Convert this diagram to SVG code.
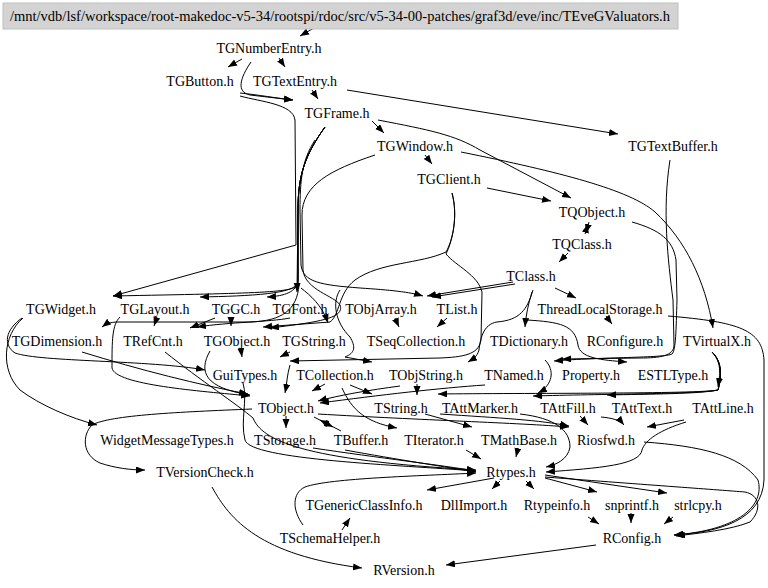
<svg xmlns="http://www.w3.org/2000/svg" width="768" height="588" viewBox="0 0 768 588">
<style>
text{font-family:'Liberation Serif','Times New Roman',Times,serif;font-size:14px;fill:#000;text-anchor:middle}
.e{fill:none;stroke:#000;stroke-width:1}
</style>
<defs>
<marker id="a" markerUnits="userSpaceOnUse" markerWidth="10" markerHeight="8" refX="9" refY="3.5" orient="auto">
<path d="M0,0 L9,3.5 L0,7 z" fill="#000"/>
</marker>
</defs>
<rect width="768" height="588" fill="#fff"/>
<g id="edges" marker-end="url(#a)">
<path class="e" d="M314,28 L300,36"/>
<path class="e" d="M242,59 L228,67"/>
<path class="e" d="M279,58 L285,67"/>
<path class="e" d="M251,62 C240,78 236,92 250,95 L293,100"/>
<path class="e" d="M240,93 C260,95 275,98 293,100"/>
<path class="e" d="M240,96 C262,102 293,104 295,120 L296,245 L113,296"/>
<path class="e" d="M312,90 L318,99"/>
<path class="e" d="M347,90 L618,134"/>
<path class="e" d="M372,121 L384,133"/>
<path class="e" d="M378,120 C430,130 455,135 480,150 L571,198"/>
<path class="e" d="M325,127 C305,155 298,175 298,210 L297,292"/>
<path class="e" d="M325,127 C305,155 298,175 298,210 L298,280 C297,292 285,296 267,297"/>
<path class="e" d="M325,127 C305,155 298,175 298,210 L298,282 C297,294 250,296 200,297"/>
<path class="e" d="M325,127 C305,155 298,175 298,210 L298,284 C296,293 260,293 113,296"/>
<path class="e" d="M299,285 C297,310 282,321 250,322 L118,322 C110,322 106,324 102,327"/>
<path class="e" d="M301,288 C310,295 322,305 328,323"/>
<path class="e" d="M315,140 C302,160 300,180 300,210 L301,265 C303,282 320,285 360,288 C390,290 410,292 423,296"/>
<path class="e" d="M375,155 C330,170 302,185 302,215 L303,270 C305,290 335,296 340,305 C345,318 320,322 270,328"/>
<path class="e" d="M425,155 L432,164"/>
<path class="e" d="M461,152 C560,172 630,190 655,212 C685,240 705,280 713,328"/>
<path class="e" d="M487,188 L551,201"/>
<path class="e" d="M452,193 C458,215 453,240 446,252 C420,264 380,262 355,280 C338,293 340,315 330,322 L263,327"/>
<path class="e" d="M452,193 C458,215 453,240 446,254 C456,266 478,275 482,292 L481,340 C479,355 462,357 440,358 L290,361"/>
<path class="e" d="M589,222 L586,233"/>
<path class="e" d="M585,234 L588,224"/>
<path class="e" d="M568,253 L559,262"/>
<path class="e" d="M513,282 L427,296"/>
<path class="e" d="M515,284 L432,297"/>
<path class="e" d="M555,288 L576,298"/>
<path class="e" d="M532,292 C528,305 526,315 525,327"/>
<path class="e" d="M533,290 C527,310 520,320 497,322 C483,324 480,340 479,350 C477,357 473,359 468,362"/>
<path class="e" d="M527,320 C560,322 575,325 578,345 C580,358 600,360 627,362"/>
<path class="e" d="M606,316 L612,324"/>
<path class="e" d="M668,316 C740,322 762,330 764,360 L764,480 C762,520 720,532 674,535"/>
<path class="e" d="M670,160 C662,210 668,260 673,300 L674,345 C674,356 660,358 640,358 L562,359"/>
<path class="e" d="M632,222 C660,230 673,240 676,260 L677,300 C676,330 676,350 672,354 C665,358 600,357 554,361"/>
<path class="e" d="M157,317 L154,326"/>
<path class="e" d="M231,317 L231,326"/>
<path class="e" d="M215,318 L190,328"/>
<path class="e" d="M290,318 C270,322 230,322 197,327"/>
<path class="e" d="M395,318 L399,327"/>
<path class="e" d="M447,318 L437,327"/>
<path class="e" d="M340,290 C332,302 335,322 350,337 C356,347 355,353 345,357 L372,362"/>
<path class="e" d="M712,352 C722,362 720,375 718,387"/>
<path class="e" d="M712,352 C722,362 722,375 718,390 C700,394 650,394 607,395"/>
<path class="e" d="M712,352 C722,362 722,375 718,390 C700,394 600,394 533,396"/>
<path class="e" d="M712,352 C722,362 722,375 718,390 C700,394 520,393 438,394"/>
<path class="e" d="M545,360 C555,370 553,385 538,393"/>
<path class="e" d="M22,318 C5,330 3,345 15,353 C40,362 150,360 205,370"/>
<path class="e" d="M23,318 C3,335 0,370 20,390 C40,405 70,418 97,425"/>
<path class="e" d="M120,317 C112,325 112,340 112,368 C115,385 200,391 250,396"/>
<path class="e" d="M82,352 C140,370 200,385 248,394"/>
<path class="e" d="M165,352 C200,380 238,405 253,418 C262,440 300,460 476,470"/>
<path class="e" d="M210,351 C198,372 205,388 250,395"/>
<path class="e" d="M241,350 L242,357"/>
<path class="e" d="M290,352 L280,357"/>
<path class="e" d="M243,383 C248,400 240,420 245,440 C250,460 400,465 476,471"/>
<path class="e" d="M290,365 C287,375 287,383 285,393"/>
<path class="e" d="M325,384 L312,391"/>
<path class="e" d="M350,385 L372,394"/>
<path class="e" d="M417,384 L417,395"/>
<path class="e" d="M400,386 C370,390 340,395 318,401"/>
<path class="e" d="M485,385 C440,388 380,395 320,403"/>
<path class="e" d="M286,416 L286,428"/>
<path class="e" d="M341,431 L320,420"/>
<path class="e" d="M314,417 L333,427"/>
<path class="e" d="M342,388 C352,410 365,422 397,428"/>
<path class="e" d="M318,414 C420,420 520,423 569,427"/>
<path class="e" d="M425,414 L472,427"/>
<path class="e" d="M440,414 C500,418 540,420 569,426"/>
<path class="e" d="M520,414 C555,418 570,430 570,447 C568,460 555,465 546,467"/>
<path class="e" d="M580,416 L588,425"/>
<path class="e" d="M601,417 C612,418 620,420 624,425"/>
<path class="e" d="M684,420 L647,427"/>
<path class="e" d="M686,422 C660,430 645,440 642,450 C640,465 600,468 546,472"/>
<path class="e" d="M644,442 C700,446 740,455 758,480 C765,505 740,530 674,535"/>
<path class="e" d="M252,409 C180,412 110,415 92,425 C82,435 82,455 100,463 C115,468 130,470 145,470"/>
<path class="e" d="M313,448 C380,458 440,465 476,471"/>
<path class="e" d="M345,450 C400,460 440,466 476,472"/>
<path class="e" d="M466,450 L481,459"/>
<path class="e" d="M518,448 L516,457"/>
<path class="e" d="M303,525 C292,510 292,493 305,487 C330,478 420,476 476,473"/>
<path class="e" d="M342,530 L350,518"/>
<path class="e" d="M212,487 C230,520 260,555 362,568"/>
<path class="e" d="M494,478 L427,490"/>
<path class="e" d="M500,481 L492,489"/>
<path class="e" d="M526,481 L534,489"/>
<path class="e" d="M545,478 L597,492"/>
<path class="e" d="M545,475 L667,493"/>
<path class="e" d="M545,477 C650,485 720,490 745,492 C760,495 762,510 750,522 C730,530 700,533 676,536"/>
<path class="e" d="M588,517 L599,524"/>
<path class="e" d="M631,513 L631,523"/>
<path class="e" d="M673,517 L664,524"/>
<path class="e" d="M596,545 L446,565"/>
</g>
<g id="title"><rect x="3" y="3" width="675" height="26" fill="#d3d3d3" stroke="#c0c0c0"/><text font-family="Liberation Serif, serif" x="340" y="21" textLength="660" lengthAdjust="spacingAndGlyphs">/mnt/vdb/lsf/workspace/root-makedoc-v5-34/rootspi/rdoc/src/v5-34-00-patches/graf3d/eve/inc/TEveGValuators.h</text></g>
<g font-family="Liberation Serif, serif">
<g id="n_TGNumberEntry"><text x="269" y="53">TGNumberEntry.h</text></g>
<g id="n_TGButton"><text x="200" y="86">TGButton.h</text></g>
<g id="n_TGTextEntry"><text x="295" y="86">TGTextEntry.h</text></g>
<g id="n_TGFrame"><text x="337" y="118">TGFrame.h</text></g>
<g id="n_TGWindow"><text x="415" y="151">TGWindow.h</text></g>
<g id="n_TGTextBuffer"><text x="673" y="151">TGTextBuffer.h</text></g>
<g id="n_TGClient"><text x="449" y="184">TGClient.h</text></g>
<g id="n_TQObject"><text x="592" y="217">TQObject.h</text></g>
<g id="n_TQClass"><text x="582" y="249">TQClass.h</text></g>
<g id="n_TClass"><text x="531" y="281">TClass.h</text></g>
<g id="n_TGWidget"><text x="61" y="314">TGWidget.h</text></g>
<g id="n_TGLayout"><text x="155" y="314">TGLayout.h</text></g>
<g id="n_TGGC"><text x="236" y="314">TGGC.h</text></g>
<g id="n_TGFont"><text x="300" y="314">TGFont.h</text></g>
<g id="n_TObjArray"><text x="381" y="314">TObjArray.h</text></g>
<g id="n_TList"><text x="457" y="314">TList.h</text></g>
<g id="n_ThreadLocalStorage"><text x="600" y="314">ThreadLocalStorage.h</text></g>
<g id="n_TGDimension"><text x="57" y="346">TGDimension.h</text></g>
<g id="n_TRefCnt"><text x="153" y="346">TRefCnt.h</text></g>
<g id="n_TGObject"><text x="237" y="346">TGObject.h</text></g>
<g id="n_TGString"><text x="314" y="346">TGString.h</text></g>
<g id="n_TSeqCollection"><text x="416" y="346">TSeqCollection.h</text></g>
<g id="n_TDictionary"><text x="529" y="346">TDictionary.h</text></g>
<g id="n_RConfigure"><text x="625" y="346">RConfigure.h</text></g>
<g id="n_TVirtualX"><text x="717" y="346">TVirtualX.h</text></g>
<g id="n_GuiTypes"><text x="245" y="380">GuiTypes.h</text></g>
<g id="n_TCollection"><text x="335" y="380">TCollection.h</text></g>
<g id="n_TObjString"><text x="426" y="380">TObjString.h</text></g>
<g id="n_TNamed"><text x="514" y="380">TNamed.h</text></g>
<g id="n_Property"><text x="591" y="380">Property.h</text></g>
<g id="n_ESTLType"><text x="673" y="380">ESTLType.h</text></g>
<g id="n_TObject"><text x="286" y="413">TObject.h</text></g>
<g id="n_TString"><text x="401" y="413">TString.h</text></g>
<g id="n_TAttMarker"><text x="480" y="413">TAttMarker.h</text></g>
<g id="n_TAttFill"><text x="568" y="413">TAttFill.h</text></g>
<g id="n_TAttText"><text x="642" y="413">TAttText.h</text></g>
<g id="n_TAttLine"><text x="723" y="413">TAttLine.h</text></g>
<g id="n_WidgetMessageTypes"><text x="167" y="445">WidgetMessageTypes.h</text></g>
<g id="n_TStorage"><text x="285" y="445">TStorage.h</text></g>
<g id="n_TBuffer"><text x="361" y="445">TBuffer.h</text></g>
<g id="n_TIterator"><text x="434" y="445">TIterator.h</text></g>
<g id="n_TMathBase"><text x="519" y="445">TMathBase.h</text></g>
<g id="n_Riosfwd"><text x="606" y="445">Riosfwd.h</text></g>
<g id="n_TVersionCheck"><text x="205" y="477">TVersionCheck.h</text></g>
<g id="n_Rtypes"><text x="511" y="477">Rtypes.h</text></g>
<g id="n_TGenericClassInfo"><text x="364" y="510">TGenericClassInfo.h</text></g>
<g id="n_DllImport"><text x="474" y="510">DllImport.h</text></g>
<g id="n_Rtypeinfo"><text x="557" y="510">Rtypeinfo.h</text></g>
<g id="n_snprintf"><text x="632" y="510">snprintf.h</text></g>
<g id="n_strlcpy"><text x="698" y="510">strlcpy.h</text></g>
<g id="n_TSchemaHelper"><text x="330" y="543">TSchemaHelper.h</text></g>
<g id="n_RConfig"><text x="632" y="543">RConfig.h</text></g>
<g id="n_RVersion"><text x="404" y="575">RVersion.h</text></g>
</g>
</svg>
